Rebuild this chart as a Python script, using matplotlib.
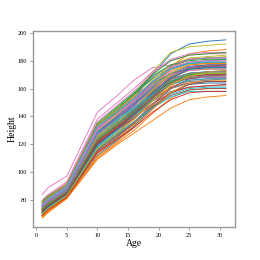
import matplotlib
matplotlib.use("Agg")
import matplotlib.pyplot as plt

plt.rcParams['font.family'] = ['Liberation Serif', 'DejaVu Serif']

ages = [1, 2, 5, 10, 13, 16, 19, 22, 25, 28, 31]

heights = [
    [75, 79, 88, 128, 140, 153, 170, 185, 192, 194, 195],
    [72, 76, 85, 120, 130, 141, 158, 176, 185, 187, 188],
    [74, 78, 86, 124, 135, 146, 158, 167, 171, 172, 172],
    [70, 74, 83, 116, 127, 138, 151, 161, 166, 167, 167],
    [77, 81, 90, 131, 143, 155, 168, 177, 181, 182, 182],
    [73, 77, 85, 121, 131, 141, 152, 160, 164, 165, 165],
    [84, 89, 97, 143, 154, 166, 175, 177, 178, 178, 178],
    [71, 75, 84, 118, 128, 139, 152, 163, 169, 170, 171],
    [76, 80, 89, 130, 142, 155, 172, 186, 190, 191, 192],
    [74, 78, 87, 126, 137, 148, 160, 170, 174, 175, 175],
    [69, 73, 82, 112, 122, 133, 146, 157, 163, 164, 164],
    [68, 72, 81, 109, 119, 128, 137, 146, 152, 154, 155],
    [78, 82, 91, 134, 145, 156, 167, 175, 178, 179, 179],
    [72, 76, 85, 122, 133, 145, 159, 170, 175, 176, 176],
    [75, 79, 88, 127, 137, 147, 157, 164, 167, 168, 168],
    [70, 74, 82, 114, 124, 135, 148, 160, 167, 169, 170],
    [79, 83, 92, 136, 147, 158, 171, 180, 184, 185, 185],
    [73, 77, 86, 123, 132, 141, 151, 158, 161, 162, 162],
    [76, 80, 88, 129, 140, 152, 166, 177, 182, 183, 184],
    [71, 75, 83, 117, 126, 136, 147, 156, 160, 161, 161],
    [74, 78, 87, 125, 136, 148, 162, 174, 179, 180, 181],
    [67, 71, 81, 110, 120, 130, 142, 153, 159, 160, 160],
    [77, 81, 89, 132, 142, 152, 163, 171, 174, 175, 175],
    [72, 76, 84, 120, 131, 143, 157, 169, 175, 177, 177],
    [75, 79, 88, 128, 138, 148, 159, 167, 171, 172, 172],
    [70, 74, 83, 115, 125, 135, 146, 155, 159, 160, 160],
    [80, 84, 93, 138, 149, 160, 172, 181, 185, 186, 186],
    [73, 77, 85, 122, 133, 144, 157, 168, 173, 174, 174],
    [76, 80, 89, 130, 140, 150, 161, 169, 173, 174, 174],
    [71, 75, 84, 119, 129, 140, 153, 165, 171, 172, 173],
    [74, 78, 86, 125, 135, 145, 156, 165, 169, 170, 170],
    [69, 73, 82, 113, 123, 134, 148, 162, 170, 172, 173],
    [78, 82, 90, 133, 144, 156, 170, 180, 184, 185, 186],
    [72, 76, 85, 121, 130, 139, 149, 157, 161, 162, 163],
    [75, 79, 87, 127, 139, 151, 164, 174, 178, 179, 179],
    [70, 74, 83, 116, 126, 136, 147, 157, 163, 165, 165],
    [77, 81, 90, 132, 143, 153, 164, 172, 176, 177, 177],
    [73, 77, 86, 124, 134, 144, 156, 166, 171, 172, 172],
    [74, 78, 87, 126, 137, 149, 163, 175, 181, 182, 183],
    [71, 75, 83, 118, 127, 136, 146, 154, 158, 158, 158],
    [76, 80, 89, 129, 139, 149, 161, 171, 176, 177, 177],
    [68, 72, 81, 111, 121, 132, 145, 157, 164, 166, 166],
    [79, 83, 91, 135, 146, 157, 169, 177, 180, 181, 181],
    [72, 76, 85, 122, 132, 142, 154, 164, 169, 170, 170],
    [75, 79, 88, 128, 138, 148, 160, 170, 175, 176, 176],
    [73, 77, 85, 120, 130, 141, 154, 167, 174, 176, 177],
    [77, 81, 89, 131, 141, 151, 162, 170, 173, 174, 174],
    [70, 74, 82, 115, 125, 136, 149, 160, 165, 166, 167],
    [74, 78, 87, 125, 135, 146, 159, 171, 177, 178, 178],
    [76, 80, 88, 128, 137, 146, 156, 163, 166, 167, 167],
    [71, 75, 84, 119, 130, 142, 156, 168, 174, 175, 175],
    [78, 82, 91, 134, 144, 154, 165, 173, 177, 178, 178],
    [73, 77, 86, 123, 133, 143, 155, 165, 170, 171, 171],
    [69, 73, 82, 114, 123, 132, 143, 152, 157, 158, 158],
    [75, 79, 87, 127, 138, 150, 164, 176, 181, 182, 182],
    [72, 76, 84, 121, 131, 141, 153, 163, 168, 169, 169],
    [76, 80, 89, 130, 141, 152, 165, 175, 179, 180, 180],
    [74, 78, 86, 124, 134, 144, 155, 164, 168, 169, 169],
    [70, 74, 83, 117, 127, 138, 151, 163, 169, 171, 171],
    [77, 81, 90, 133, 143, 153, 165, 174, 178, 179, 179],
]

fig = plt.figure(figsize=(2.6, 2.6), dpi=100)
ax = fig.add_axes([0.127, 0.127, 0.777, 0.754])

for h in heights:
    ax.plot(ages, h, linewidth=0.65)

ax.set_xlabel("Age", fontsize=7, labelpad=0.5)
ax.set_ylabel("Height", fontsize=7, labelpad=0.5)
ax.tick_params(labelsize=4.5, length=2.5, width=0.6, color='#888888', pad=2)
for s in ax.spines.values():
    s.set_color('#999999')
    s.set_linewidth(1.0)

fig.savefig("out.png", dpi=100)
